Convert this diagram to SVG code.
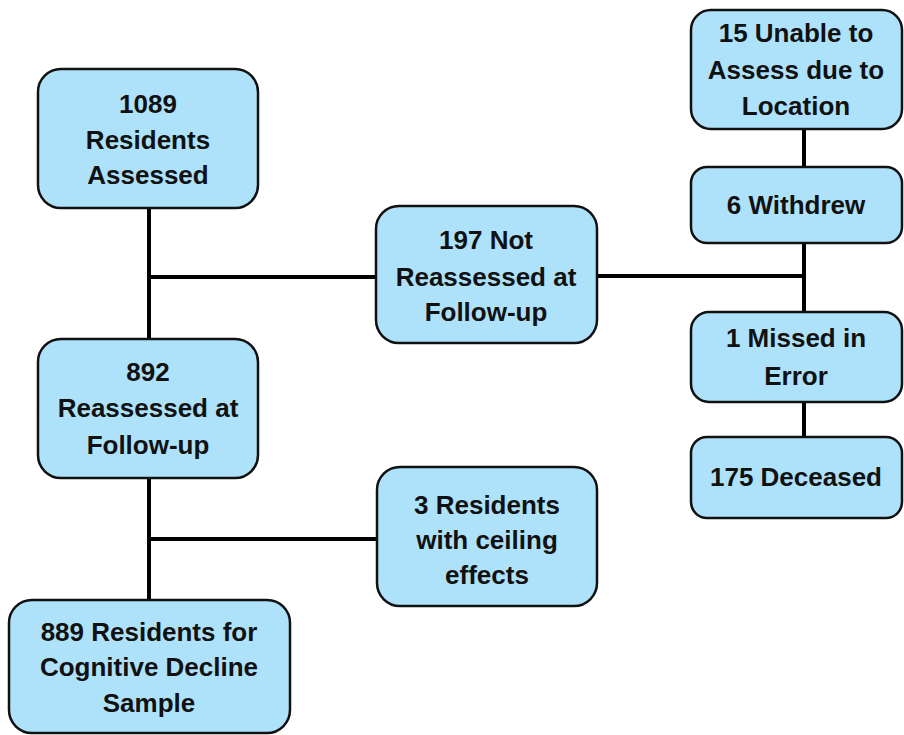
<svg xmlns="http://www.w3.org/2000/svg" width="904" height="735" viewBox="0 0 904 735">
<style>
.box{fill:#aee2fb;stroke:#111;stroke-width:2.5}
.lbl{font-family:"Liberation Sans",Arial,sans-serif;font-weight:bold;font-size:26px;fill:#111;text-anchor:middle}
.conn line{stroke:#000;stroke-width:4}
</style>
<rect width="904" height="735" fill="#fff"/>
<g id="connectors" class="conn">
<line x1="149" y1="208" x2="149" y2="339"/>
<line x1="147" y1="277" x2="376" y2="277"/>
<line x1="149" y1="478" x2="149" y2="600"/>
<line x1="147" y1="539" x2="377" y2="539"/>
<line x1="597" y1="276" x2="806" y2="276"/>
<line x1="804" y1="129" x2="804" y2="167"/>
<line x1="804" y1="243" x2="804" y2="312"/>
<line x1="804" y1="402" x2="804" y2="437"/>
</g>
<g id="n1089">
<rect class="box" x="38" y="69" width="220" height="139" rx="23"/>
<text class="lbl"><tspan x="148" y="113">1089</tspan><tspan x="148" y="149">Residents</tspan><tspan x="148" y="184">Assessed</tspan></text>
</g>
<g id="n197">
<rect class="box" x="376" y="206" width="221" height="137" rx="23"/>
<text class="lbl"><tspan x="486" y="249">197 Not</tspan><tspan x="486" y="286">Reassessed at</tspan><tspan x="486" y="321">Follow-up</tspan></text>
</g>
<g id="n892">
<rect class="box" x="38" y="339" width="220" height="139" rx="23"/>
<text class="lbl"><tspan x="148" y="381">892</tspan><tspan x="148" y="417">Reassessed at</tspan><tspan x="148" y="454">Follow-up</tspan></text>
</g>
<g id="n3">
<rect class="box" x="377" y="467" width="220" height="139" rx="23"/>
<text class="lbl"><tspan x="487" y="514">3 Residents</tspan><tspan x="487" y="549">with ceiling</tspan><tspan x="487" y="584">effects</tspan></text>
</g>
<g id="n889">
<rect class="box" x="9" y="600" width="281" height="133" rx="23"/>
<text class="lbl"><tspan x="149" y="641">889 Residents for</tspan><tspan x="149" y="676">Cognitive Decline</tspan><tspan x="149" y="712">Sample</tspan></text>
</g>
<g id="n15">
<rect class="box" x="691" y="10" width="211" height="119" rx="20"/>
<text class="lbl"><tspan x="796" y="42">15 Unable to</tspan><tspan x="796" y="79">Assess due to</tspan><tspan x="796" y="115">Location</tspan></text>
</g>
<g id="n6">
<rect class="box" x="691" y="167" width="211" height="76" rx="16"/>
<text class="lbl" x="796" y="214">6 Withdrew</text>
</g>
<g id="n1">
<rect class="box" x="691" y="312" width="211" height="90" rx="18"/>
<text class="lbl"><tspan x="796" y="347">1 Missed in</tspan><tspan x="796" y="385">Error</tspan></text>
</g>
<g id="n175">
<rect class="box" x="691" y="437" width="211" height="81" rx="16"/>
<text class="lbl" x="796" y="486">175 Deceased</text>
</g>
</svg>
